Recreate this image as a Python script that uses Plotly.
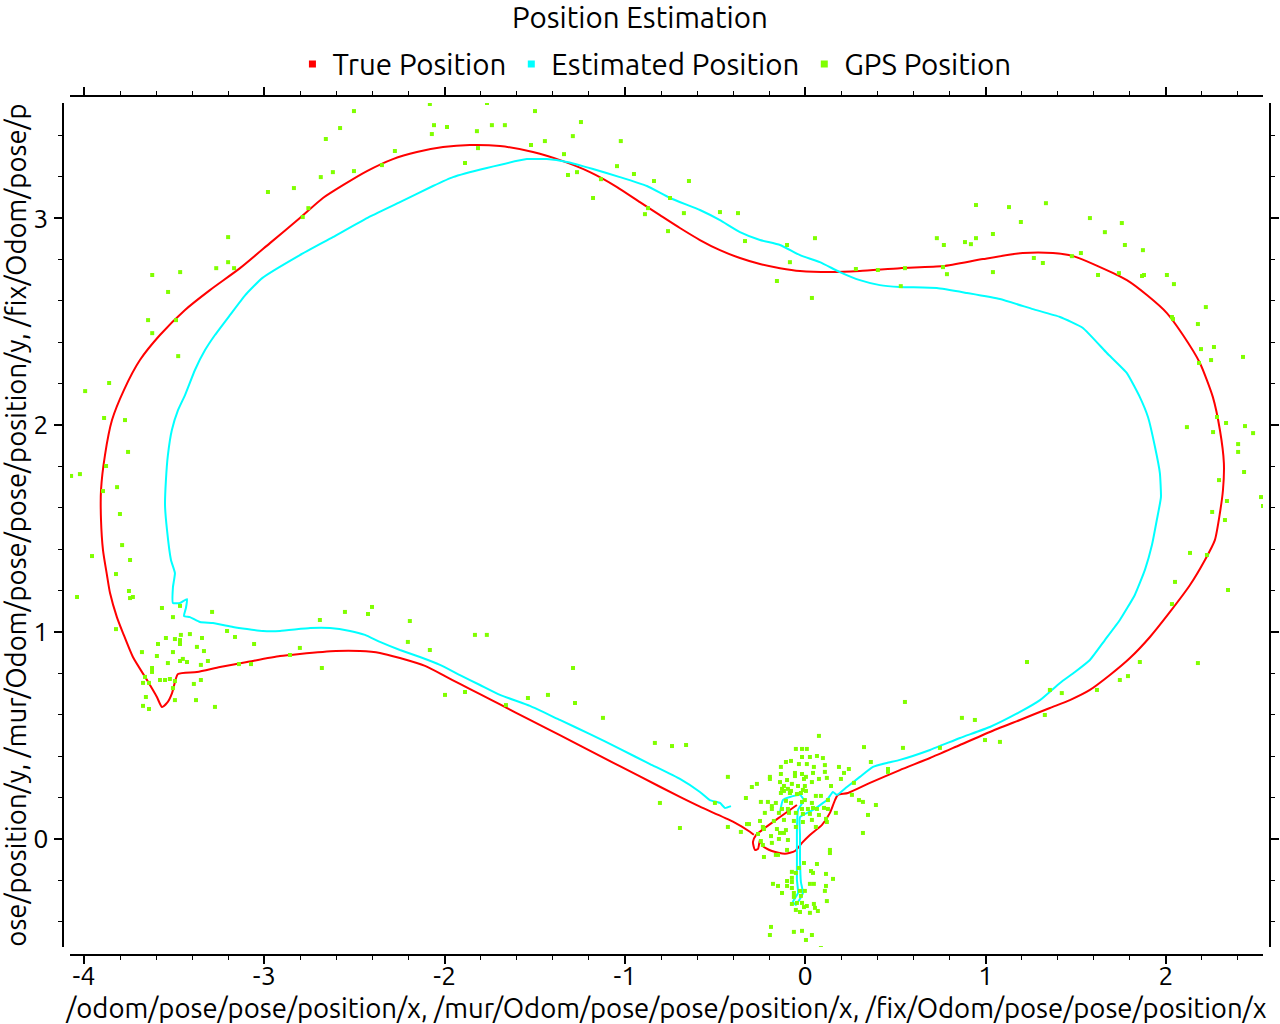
import plotly.graph_objects as go

# ---------------- data ----------------
true_x = [-0.046, -0.140, -0.224, -0.273, -0.290, -0.279, -0.262, -0.251, -0.235, -0.185,
          -0.113, -0.057, -0.018, 0.026, 0.093, 0.137, 0.165, 0.181, 0.237, 0.359,
          0.525, 0.692, 0.858, 1.024, 1.191, 1.357, 1.468, 1.579, 1.690, 1.801,
          1.912, 2.023, 2.134, 2.217, 2.272, 2.300, 2.317, 2.322, 2.300, 2.261,
          2.189, 2.095, 2.006, 1.895, 1.784, 1.635, 1.485, 1.374, 1.207, 0.986,
          0.764, 0.525, 0.303, 0.137, -0.029, -0.140, -0.251, -0.362, -0.473, -0.584,
          -0.695, -0.806, -0.917, -1.044, -1.194, -1.344, -1.510, -1.693, -1.860, -2.009,
          -2.154, -2.287, -2.431, -2.564, -2.675, -2.803, -2.969, -3.135, -3.302, -3.440,
          -3.579, -3.690, -3.779, -3.845, -3.884, -3.906, -3.906, -3.895, -3.873, -3.856,
          -3.818, -3.784, -3.729, -3.651, -3.596, -3.568, -3.540, -3.512, -3.496, -3.479,
          -3.374, -3.246, -3.096, -2.913, -2.803, -2.603, -2.470, -2.359, -2.248, -2.109,
          -1.998, -1.915, -1.804, -1.693, -1.527, -1.361, -1.139, -0.917, -0.695, -0.584,
          -0.401, -0.307, -0.285]
true_y = [0.164, 0.106, 0.053, 0.019, -0.014, -0.053, -0.048, -0.005, -0.034, -0.058,
          -0.072, -0.058, -0.019, 0.019, 0.068, 0.126, 0.188, 0.213, 0.222, 0.271,
          0.333, 0.391, 0.454, 0.517, 0.575, 0.633, 0.671, 0.720, 0.792, 0.874,
          0.976, 1.097, 1.227, 1.348, 1.444, 1.575, 1.686, 1.816, 1.976, 2.135,
          2.300, 2.435, 2.541, 2.628, 2.700, 2.763, 2.816, 2.831, 2.831, 2.802,
          2.768, 2.758, 2.744, 2.739, 2.744, 2.758, 2.778, 2.807, 2.845, 2.894,
          2.952, 3.014, 3.077, 3.150, 3.222, 3.275, 3.319, 3.348, 3.353, 3.343,
          3.319, 3.285, 3.227, 3.159, 3.097, 3.000, 2.879, 2.758, 2.652, 2.556,
          2.435, 2.314, 2.169, 2.024, 1.855, 1.686, 1.541, 1.396, 1.275, 1.188,
          1.072, 0.995, 0.879, 0.768, 0.686, 0.638, 0.657, 0.705, 0.758, 0.797,
          0.807, 0.831, 0.855, 0.884, 0.894, 0.908, 0.908, 0.899, 0.874, 0.836,
          0.787, 0.749, 0.700, 0.650, 0.575, 0.502, 0.401, 0.302, 0.203, 0.156,
          0.084, 0.035, 0.020]

est_x = [-0.140, -0.124, -0.085, -0.029, -0.007, -0.040, -0.046, -0.046, -0.046, -0.040,
         -0.068, -0.052, -0.013, -0.024, -0.029, -0.029, -0.029, 0.043, 0.120, 0.154,
         0.176, 0.231, 0.303, 0.376, 0.453, 0.525, 0.692, 0.858, 1.024, 1.191,
         1.302, 1.413, 1.496, 1.579, 1.662, 1.745, 1.828, 1.884, 1.923, 1.950,
         1.973, 1.967, 1.940, 1.901, 1.856, 1.784, 1.673, 1.540, 1.413, 1.263,
         1.080, 0.897, 0.730, 0.525, 0.414, 0.303, 0.192, 0.081, -0.029, -0.140,
         -0.251, -0.362, -0.473, -0.584, -0.750, -0.878, -1.028, -1.177, -1.322, -1.433,
         -1.544, -1.766, -1.954, -2.065, -2.248, -2.431, -2.620, -2.803, -3.012, -3.106,
         -3.191, -3.274, -3.329, -3.385, -3.440, -3.479, -3.513, -3.535, -3.546, -3.551,
         -3.540, -3.518, -3.496, -3.507, -3.507, -3.468, -3.429, -3.435, -3.446, -3.413,
         -3.357, -3.285, -3.174, -3.096, -3.008, -2.913, -2.746, -2.636, -2.525, -2.442,
         -2.359, -2.248, -2.137, -2.026, -1.915, -1.804, -1.693, -1.527, -1.361, -1.194,
         -1.028, -0.861, -0.695, -0.584, -0.529, -0.473, -0.445, -0.412]
est_y = [0.130, 0.188, 0.203, 0.213, 0.188, 0.140, 0.043, -0.101, -0.198, -0.261,
         -0.304, -0.319, -0.261, -0.208, -0.101, 0.019, 0.106, 0.140, 0.188, 0.227,
         0.213, 0.251, 0.300, 0.348, 0.367, 0.382, 0.430, 0.488, 0.541, 0.614,
         0.671, 0.754, 0.807, 0.865, 0.961, 1.058, 1.179, 1.300, 1.420, 1.541,
         1.652, 1.768, 1.894, 2.039, 2.135, 2.251, 2.348, 2.469, 2.522, 2.560,
         2.609, 2.638, 2.662, 2.667, 2.676, 2.700, 2.739, 2.787, 2.821, 2.870,
         2.894, 2.932, 2.990, 3.039, 3.097, 3.155, 3.198, 3.237, 3.271, 3.285,
         3.285, 3.242, 3.198, 3.155, 3.077, 3.000, 2.908, 2.821, 2.710, 2.628,
         2.531, 2.435, 2.362, 2.266, 2.145, 2.072, 1.976, 1.855, 1.734, 1.614,
         1.493, 1.348, 1.285, 1.217, 1.140, 1.140, 1.159, 1.116, 1.077, 1.072,
         1.048, 1.043, 1.024, 1.014, 1.005, 1.005, 1.019, 1.019, 1.005, 0.986,
         0.952, 0.913, 0.879, 0.841, 0.792, 0.744, 0.696, 0.643, 0.575, 0.507,
         0.435, 0.362, 0.290, 0.227, 0.188, 0.174, 0.150, 0.159]

gps_top = [
    [-2.082, 3.551], [-1.765, 3.556], [-2.503, 3.517], [-1.499, 3.517], [-2.580, 3.435],
    [-2.059, 3.449], [-1.987, 3.440], [-1.738, 3.449], [-1.666, 3.449], [-1.244, 3.464],
    [-2.659, 3.382], [-2.071, 3.406], [-1.821, 3.420], [-1.444, 3.372], [-1.289, 3.396],
    [-1.023, 3.372], [-2.276, 3.324], [-1.815, 3.338], [-1.521, 3.353], [-1.338, 3.309],
    [-2.687, 3.198], [-2.620, 3.222], [-2.503, 3.227], [-2.348, 3.256], [-1.887, 3.266],
    [-1.316, 3.208], [-1.266, 3.222], [-1.044, 3.251], [-0.950, 3.213], [-1.133, 3.188],
    [-0.839, 3.179], [-0.645, 3.179], [-1.177, 3.097], [-0.750, 3.097], [-0.872, 3.048],
    [-0.889, 3.019], [-0.673, 3.024], [-0.761, 2.937], [-2.756, 3.048], [-2.787, 3.005],
    [-0.473, 3.029], [-0.373, 3.024], [-0.334, 2.889], [-0.101, 2.870], [-0.085, 2.787],
    [-0.157, 2.696], [0.037, 2.614], [0.054, 2.903], [0.281, 2.754], [0.403, 2.749],
    [0.553, 2.758], [0.530, 2.671],
]
gps_right = [
    [0.947, 3.063], [1.130, 3.053], [1.335, 3.072], [0.730, 2.903], [0.769, 2.870],
    [0.886, 2.884], [0.919, 2.874], [0.947, 2.903], [1.041, 2.923], [1.196, 2.981],
    [1.579, 3.000], [1.662, 2.932], [1.756, 2.976], [0.764, 2.763], [0.786, 2.729],
    [1.041, 2.739], [1.268, 2.807], [1.318, 2.783], [1.529, 2.831], [1.479, 2.816],
    [1.624, 2.725], [1.740, 2.734], [1.773, 2.870], [1.873, 2.845], [1.868, 2.720],
    [1.879, 2.725], [2.006, 2.725], [2.045, 2.681], [2.222, 2.570], [2.034, 2.522],
    [2.040, 2.512], [2.178, 2.488], [2.267, 2.377], [2.195, 2.367], [2.251, 2.314],
    [2.184, 2.300], [2.428, 2.329], [2.284, 2.039], [2.334, 2.010], [2.117, 1.990],
    [2.262, 1.966], [2.439, 1.995], [2.484, 1.961], [2.401, 1.908], [2.401, 1.870],
    [2.434, 1.773], [2.295, 1.734], [2.528, 1.652], [2.539, 1.609], [2.339, 1.633],
    [2.328, 1.541], [2.257, 1.580], [2.345, 1.203], [2.228, 1.372], [2.134, 1.382],
    [2.051, 1.242], [2.034, 1.135], [2.178, 0.850], [1.856, 0.855], [1.745, 0.768],
    [1.790, 0.787], [1.618, 0.720], [1.423, 0.705], [1.357, 0.720], [1.329, 0.599],
    [1.230, 0.855], [1.080, 0.469], [0.997, 0.478], [0.941, 0.575], [0.869, 0.585],
    [0.553, 0.662], [0.542, 0.440], [0.747, 0.440],
]
gps_left = [
    [-3.994, 2.164], [-3.861, 2.203], [-3.889, 2.034], [-4.072, 1.754], [-4.023, 1.763],
    [-3.878, 1.802], [-3.895, 1.681], [-3.817, 1.700], [-3.801, 1.570], [-3.956, 1.367],
    [-4.039, 1.169], [-3.622, 2.725], [-3.467, 2.739], [-3.534, 2.643], [-3.645, 2.507],
    [-3.622, 2.444], [-3.478, 2.333], [-3.490, 2.507], [-3.267, 2.758], [-3.201, 2.787],
    [-3.168, 2.758], [-3.201, 2.908], [-2.980, 3.126], [-2.836, 3.145], [-3.773, 2.024],
    [-3.756, 1.870], [-3.745, 1.348], [-3.789, 1.420], [-3.290, 1.097],
    [-3.823, 1.280], [-3.751, 1.198], [-3.745, 1.164], [-3.729, 1.169], [-3.568, 1.116],
    [-3.468, 1.126], [-3.507, 1.072], [-3.823, 1.014], [-3.207, 1.005], [-3.163, 0.976],
    [-3.057, 0.942], [-3.463, 0.986], [-3.413, 0.990], [-3.546, 0.971], [-3.496, 0.966],
    [-3.468, 0.961], [-3.346, 0.971], [-3.590, 0.942], [-3.468, 0.942], [-3.374, 0.928],
    [-3.335, 0.908], [-3.679, 0.903], [-3.507, 0.903], [-3.596, 0.884], [-3.535, 0.850],
    [-3.468, 0.860], [-3.452, 0.870], [-3.429, 0.855], [-3.313, 0.860], [-3.352, 0.841],
    [-3.623, 0.826], [-3.623, 0.807], [-3.141, 0.845], [-3.074, 0.845], [-3.662, 0.783],
    [-3.673, 0.754], [-3.640, 0.754], [-3.579, 0.768], [-3.551, 0.768], [-3.524, 0.773],
    [-3.496, 0.763], [-3.507, 0.729], [-3.352, 0.768], [-3.391, 0.749], [-3.657, 0.686],
    [-3.496, 0.671], [-3.379, 0.671], [-3.673, 0.643], [-3.640, 0.628], [-3.274, 0.638],
]
gps_lower = [
    [-1.122, 0.585], [-0.834, 0.464], [-0.739, 0.449], [-0.661, 0.454], [-0.806, 0.174],
    [-0.695, 0.053], [-0.501, 0.174], [-1.277, 0.657], [-1.288, 0.826], [-1.427, 0.696],
    [-1.538, 0.681], [-1.660, 0.647], [-1.832, 0.986], [-1.766, 0.986], [-1.887, 0.710],
    [-1.998, 0.696], [-2.082, 0.913], [-2.193, 1.053], [-2.204, 0.952], [-2.403, 1.121],
    [-2.425, 1.087], [-2.553, 1.097], [-2.692, 1.058], [-2.681, 0.826], [-2.803, 0.923],
    [-2.858, 0.889],
]
gps_origin = [
    [0.076, 0.498], [-0.052, 0.435], [-0.018, 0.435], [0.009, 0.435], [0.326, 0.444],
    [-0.018, 0.396], [0.065, 0.401], [0.098, 0.391], [0.026, 0.396], [-0.135, 0.348],
    [-0.079, 0.377], [-0.107, 0.372], [-0.035, 0.362], [0.009, 0.362], [0.048, 0.348],
    [0.109, 0.357], [0.187, 0.348], [0.242, 0.338], [0.364, 0.372], [0.459, 0.338],
    [0.459, 0.324], [-0.135, 0.314], [-0.057, 0.319], [-0.018, 0.314], [0.043, 0.319],
    [0.109, 0.324], [0.215, 0.319], [-0.429, 0.300], [-0.196, 0.300], [-0.196, 0.290],
    [-0.140, 0.275], [-0.101, 0.285], [-0.057, 0.304], [-0.007, 0.290], [0.004, 0.300],
    [0.037, 0.275], [0.076, 0.290], [0.120, 0.295], [0.198, 0.290], [0.270, 0.271],
    [-0.268, 0.266], [-0.296, 0.251], [-0.118, 0.256], [-0.074, 0.266], [-0.040, 0.256],
    [-0.002, 0.256], [0.143, 0.256], [-0.129, 0.242], [-0.096, 0.242], [-0.118, 0.232],
    [-0.079, 0.232], [-0.013, 0.237], [0.004, 0.232], [-0.135, 0.222], [-0.085, 0.222],
    [-0.046, 0.217], [-0.024, 0.222], [0.059, 0.208], [0.087, 0.208], [0.126, 0.188],
    [0.259, 0.213], [0.298, 0.188], [0.320, 0.179], [0.392, 0.164], [-0.329, 0.198],
    [-0.246, 0.179], [-0.207, 0.179], [-0.185, 0.159], [-0.163, 0.174], [-0.107, 0.184],
    [-0.079, 0.174], [-0.018, 0.179], [-0.002, 0.188], [0.037, 0.174], [-0.185, 0.145],
    [-0.129, 0.145], [-0.096, 0.145], [-0.018, 0.145], [0.015, 0.145], [0.043, 0.150],
    [0.065, 0.145], [0.104, 0.150], [-0.224, 0.126], [-0.146, 0.126], [-0.090, 0.126],
    [-0.052, 0.126], [-0.013, 0.121], [0.026, 0.121], [0.076, 0.116], [0.126, 0.145],
    [0.170, 0.126], [0.348, 0.116], [-0.323, 0.072], [-0.251, 0.087], [-0.174, 0.087],
    [-0.118, 0.092], [-0.063, 0.087], [-0.013, 0.082], [0.037, 0.092], [0.115, 0.097],
    [0.120, 0.082], [-0.429, 0.058], [-0.357, 0.034], [-0.312, 0.072], [-0.235, 0.058],
    [-0.229, 0.048], [-0.157, 0.048], [-0.107, 0.043], [-0.052, 0.058], [0.059, 0.058],
    [-0.262, 0.024], [-0.190, 0.014], [-0.140, 0.029], [-0.118, 0.029], [-0.246, -0.010],
    [-0.146, 0.000], [-0.096, -0.005], [-0.185, -0.019], [-0.235, -0.029], [-0.101, -0.053],
    [-0.229, -0.087], [-0.163, -0.077], [-0.151, -0.077], [0.137, -0.053], [0.137, -0.068],
    [0.320, 0.029], [-0.007, -0.116], [0.065, -0.121], [-0.035, -0.140], [-0.074, -0.159],
    [0.032, -0.155], [0.043, -0.164], [0.115, -0.169], [0.154, -0.193], [-0.074, -0.188],
    [-0.052, -0.164], [-0.179, -0.217], [-0.151, -0.227], [-0.101, -0.203], [-0.074, -0.208],
    [-0.101, -0.227], [-0.074, -0.237], [0.026, -0.217], [0.048, -0.217], [0.115, -0.227],
    [-0.129, -0.261], [-0.063, -0.261], [-0.029, -0.251], [-0.002, -0.251], [0.109, -0.251],
    [-0.063, -0.280], [-0.024, -0.275], [-0.046, -0.309], [-0.074, -0.314], [-0.018, -0.309],
    [0.120, -0.300], [-0.007, -0.329], [0.009, -0.324], [0.048, -0.314], [0.026, -0.357],
    [0.054, -0.333], [0.070, -0.348], [-0.052, -0.343], [-0.029, -0.353], [-0.190, -0.425],
    [-0.196, -0.464], [-0.063, -0.449], [-0.018, -0.444], [0.037, -0.464], [0.004, -0.488],
    [0.087, -0.527],
]

x_ticks = [-4, -3, -2, -1, 0, 1, 2]
x_ticklabels = ["-4", "-3", "-2", "-1", "0", "1", "2"]
y_ticks = [0, 1, 2, 3]
y_ticklabels = ["0", "1", "2", "3"]
x_range = [-4.078, 2.539]
y_range = [-0.522, 3.556]

title_text = "Position Estimation"
x_title = "/odom/pose/pose/position/x, /mur/Odom/pose/pose/position/x, /fix/Odom/pose/pose/position/x"
y_title = "ose/position/y, /mur/Odom/pose/pose/position/y, /fix/Odom/pose/p"

RED = "#ff0000"
CYAN = "#00ffff"
GREEN = "#80ff00"
FONT = "Ubuntu, Roboto, sans-serif"

gps_all = gps_top + gps_right + gps_left + gps_lower + gps_origin
gps_x = [p[0] for p in gps_all]
gps_y = [p[1] for p in gps_all]

fig = go.Figure()
fig.add_trace(go.Scatter(x=true_x, y=true_y, mode="lines", name="True Position",
                         line=dict(color=RED, width=2, shape="spline", smoothing=0.6),
                         showlegend=False))
fig.add_trace(go.Scatter(x=est_x, y=est_y, mode="lines", name="Estimated Position",
                         line=dict(color=CYAN, width=2, shape="spline", smoothing=0.4),
                         showlegend=False))
fig.add_trace(go.Scatter(x=gps_x, y=gps_y, mode="markers", name="GPS Position",
                         marker=dict(color=GREEN, size=4, symbol="square", line=dict(width=0)),
                         showlegend=False))
for nm, col in [("True Position", RED), ("Estimated Position", CYAN), ("GPS Position", GREEN)]:
    fig.add_trace(go.Scatter(x=[None], y=[None], mode="markers", name=nm,
                             marker=dict(color=col, size=7, symbol="square", line=dict(width=0))))
# carrier for the mirrored top/right axes
fig.add_trace(go.Scatter(x=[None], y=[None], xaxis="x2", yaxis="y2", mode="markers",
                         showlegend=False, hoverinfo="skip"))

common = dict(showgrid=False, zeroline=False, showline=True, linecolor="black", linewidth=2,
              ticks="outside", ticklen=8, tickwidth=1.5, tickcolor="black",
              minor=dict(dtick=0.2, ticks="outside", ticklen=4, tickwidth=1.2, tickcolor="black",
                         showgrid=False),
              automargin=False, anchor="free", position=0)

fig.update_layout(
    width=1280, height=1024, template="none",
    paper_bgcolor="white", plot_bgcolor="white",
    margin=dict(l=63, r=10, t=96, b=69),
    font=dict(family=FONT, size=27, color="black"),
    title=dict(text=title_text, x=0.5, xref="container", y=1 - 18 / 1024, yref="container",
               xanchor="center", yanchor="middle", font=dict(size=29.5, family=FONT)),
    legend=dict(orientation="h", x=0.49, xanchor="center", y=1.037, yanchor="middle",
                font=dict(size=29.5, family=FONT), itemwidth=30, bgcolor="rgba(0,0,0,0)",
                tracegroupgap=0),
    xaxis=dict(common, domain=[0.0058, 0.9942], range=x_range, tickvals=x_ticks,
               ticktext=x_ticklabels, tickfont=dict(size=27), ticklabelstandoff=-11,
               title=dict(text=x_title, font=dict(size=27.5), standoff=8)),
    yaxis=dict(common, domain=[0.00931, 0.99185], range=y_range, tickvals=y_ticks,
               ticktext=y_ticklabels, tickfont=dict(size=27),
               title=dict(text=y_title, font=dict(size=27.5), standoff=4)),
    xaxis2=dict(common, domain=[0.0058, 0.9942], range=x_range, tickvals=x_ticks,
                overlaying="x", side="top", position=1, showticklabels=False),
    yaxis2=dict(common, domain=[0.00931, 0.99185], range=y_range, tickvals=y_ticks,
                overlaying="y", side="right", position=1, showticklabels=False),
)

fig.write_html("out.html")
